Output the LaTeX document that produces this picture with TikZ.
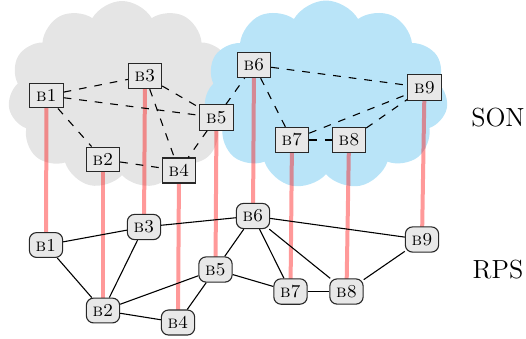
\documentclass[tikz,border=0pt]{standalone}
\usetikzlibrary{shapes.symbols}
\definecolor{cloudblue}{RGB}{185,228,248}
\definecolor{cloudgray}{RGB}{229,229,229}
\definecolor{boxfill}{RGB}{232,232,232}
\definecolor{boxline}{RGB}{40,40,40}
\tikzset{
  sonbox/.style={draw=boxline, line width=0.6pt, fill=boxfill, inner sep=3.5pt},
  rpsbox/.style={draw=boxline, line width=0.6pt, fill=boxfill, rounded corners=4pt, inner sep=3.5pt},
  sonedge/.style={dash pattern=on 4.2pt off 4.4pt, semithick},
  rpsedge/.style={semithick},
  mapline/.style={red, opacity=0.4, line width=2.2pt},
  cloudshape/.style={cloud, cloud puffs=11, cloud puff arc=120, draw=none},
  layerlabel/.style={font=\Large}
}
\begin{document}
\begin{tikzpicture}[x=0.55pt,y=-0.55pt]
\useasboundingbox (0,0) rectangle (526,338);
% clouds
\node[cloudshape, fill=cloudgray, minimum width=228*0.55pt, minimum height=188*0.55pt] (cg) at (122,95) {};
\node[cloudshape, fill=cloudblue, minimum width=244*0.55pt, minimum height=189*0.55pt] (cb) at (326,95) {};
% node coordinates
\coordinate (s1) at (46.5,95.5);
\coordinate (s3) at (145,76);
\coordinate (s5) at (216.5,117.5);
\coordinate (s2) at (103,159.5);
\coordinate (s4) at (179,170.5);
\coordinate (s6) at (254,65);
\coordinate (s9) at (424.5,87.5);
\coordinate (s7) at (292,140);
\coordinate (s8) at (349,140);
\coordinate (r1) at (46,245);
\coordinate (r3) at (144,227);
\coordinate (r6) at (253,216);
\coordinate (r9) at (422,239.5);
\coordinate (r5) at (215.5,269.5);
\coordinate (r7) at (290.5,291.5);
\coordinate (r8) at (346.5,291.5);
\coordinate (r2) at (103,310.5);
\coordinate (r4) at (178,322.5);
% mapping lines
\foreach \i in {1,...,9} \draw[mapline] (s\i) -- (r\i);
% nodes
\foreach \i in {1,...,9} {
  \node[sonbox] (S\i) at (s\i) {\textsc{b\i}};
  \node[rpsbox] (R\i) at (r\i) {\textsc{b\i}};
}
% SON edges
\foreach \a/\b in {1/3,1/5,1/2,3/5,3/4,2/4,5/4,5/6,6/9,6/7,7/9,8/9,7/8}
  \draw[sonedge] (S\a) -- (S\b);
% RPS edges
\foreach \a/\b in {1/3,1/2,3/2,3/6,6/5,6/7,6/8,6/9,9/8,5/2,5/4,5/7,2/4,7/8}
  \draw[rpsedge] (R\a) -- (R\b);
% labels
\node[layerlabel] (son) at (498,118) {SON};
\node[layerlabel] (rps) at (498,270) {RPS};
\end{tikzpicture}
\end{document}
